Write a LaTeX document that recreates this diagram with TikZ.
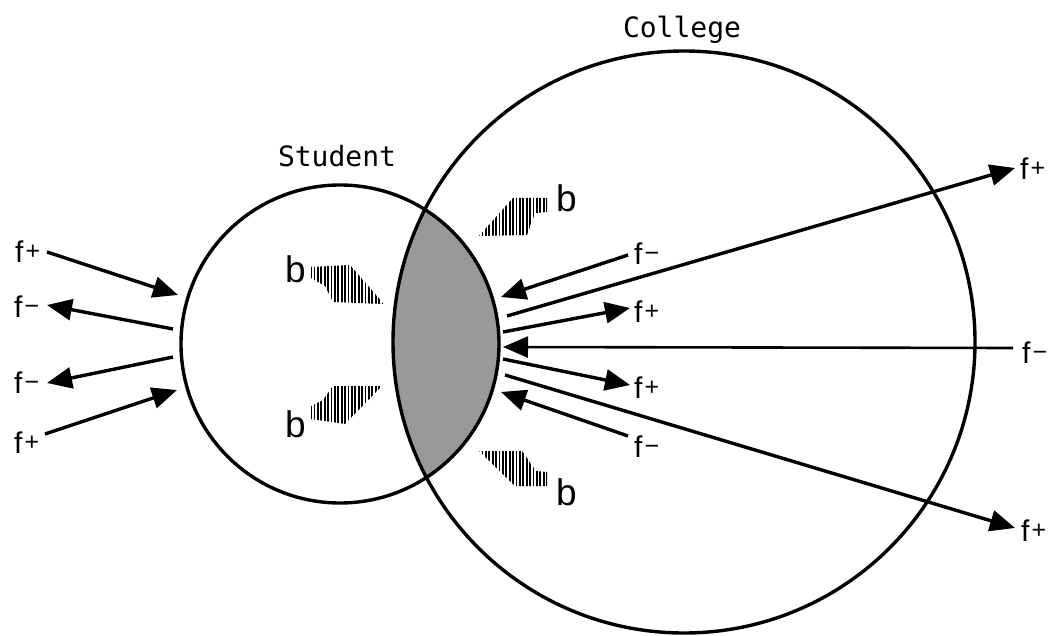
\documentclass[tikz,border=0pt]{standalone}
\usepackage{fontspec}
\setmainfont{Liberation Sans}
\newfontfamily\monofont{DejaVu Sans Mono}
\usetikzlibrary{arrows.meta}
\newcommand\myfp{f\kern2pt\raisebox{3pt}{\fontsize{25}{25}\selectfont +}}
\newcommand\myfm{f\kern2pt\raisebox{3pt}{\fontsize{25}{25}\selectfont −}}
\begin{document}
\begin{tikzpicture}[x=1pt,y=-1pt,
  ring/.style={draw, circle, inner sep=0pt, outer sep=0pt, line width=3.4pt},
  flow/.style={line width=3.4pt, -{Triangle[length=25pt,width=21pt]}},
  flab/.style={anchor=base west, inner sep=0pt, font=\fontsize{30}{36}\selectfont},
  blab/.style={anchor=base west, inner sep=0pt, font=\fontsize{37}{44}\selectfont},
  title/.style={anchor=base, inner sep=0pt, font=\monofont\fontsize{28}{33}\selectfont},
  hatch/.style={line width=1.8pt},
  lens/.style={fill=black!40}]
\useasboundingbox (0,0) rectangle (1054,636);

% overlap (lens)
\begin{scope}
  \clip (340,344) circle[radius=159pt];
  \fill[lens] (684,342) circle[radius=291pt];
\end{scope}
\node[ring, minimum size=318pt] (student) at (340,344) {};
\node[ring, minimum size=582pt] (college) at (684,342) {};

\node[title] (tstudent) at (337,167) {Student};
\node[title] (tcollege) at (682,38) {College};

% hatched b wedges
\begin{scope}
  \clip (311,267) -- (350,265) -- (384,304) -- (333,302) -- (325,286) -- (311,278) -- cycle;
  \foreach \x in {311,314.4,...,386} \draw[hatch] (\x,255) -- (\x,310);
\end{scope}
\begin{scope}
  \clip (311,406) -- (323,400) -- (333,386) -- (382,386) -- (345,424) -- (311,419) -- cycle;
  \foreach \x in {311,314.4,...,386} \draw[hatch] (\x,380) -- (\x,430);
\end{scope}
\begin{scope}
  \clip (479,236) -- (513,198) -- (547,198) -- (547,212) -- (535,213) -- (527,235) -- cycle;
  \foreach \x in {479,482.4,...,550} \draw[hatch] (\x,190) -- (\x,240);
\end{scope}
\begin{scope}
  \clip (479,451) -- (522,451) -- (536,471) -- (547,472) -- (547,486) -- (515,486) -- cycle;
  \foreach \x in {479,482.4,...,550} \draw[hatch] (\x,445) -- (\x,492);
\end{scope}

\node[blab] (b1) at (285,282) {b};
\node[blab] (b2) at (285,437) {b};
\node[blab] (b3) at (556,212) {b};
\node[blab] (b4) at (556,505) {b};

% left labels
\node[flab] (L1) at (15,262) {\myfp};
\node[flab] (L2) at (14,317) {\myfm};
\node[flab] (L3) at (14,393) {\myfm};
\node[flab] (L4) at (14,453) {\myfp};
% right labels
\node[flab] (R1) at (634,265) {\myfm};
\node[flab] (R2) at (1020,180) {\myfp};
\node[flab] (R3) at (634,322) {\myfp};
\node[flab] (R4) at (1022,363) {\myfm};
\node[flab] (R5) at (634,398) {\myfp};
\node[flab] (R6) at (634,457) {\myfm};
\node[flab] (R7) at (1021,541) {\myfp};

% arrow end points
\coordinate (l1t) at (47,252);  \coordinate (l1h) at (178,295);
\coordinate (l2t) at (173,329); \coordinate (l2h) at (47,305);
\coordinate (l3t) at (173,357); \coordinate (l3h) at (47,383);
\coordinate (l4t) at (45,434);  \coordinate (l4h) at (177,390);

\coordinate (r1t) at (628,255); \coordinate (r1h) at (501,297);
\coordinate (r2t) at (507,316); \coordinate (r2h) at (1015,168);
\coordinate (r3t) at (503,332); \coordinate (r3h) at (630,308);
\coordinate (r4t) at (1013,348); \coordinate (r4h) at (503,347);
\coordinate (r5t) at (503,359); \coordinate (r5h) at (630,385);
\coordinate (r6t) at (628,436); \coordinate (r6h) at (501,392);
\coordinate (r7t) at (505,375); \coordinate (r7h) at (1015,528);

\draw[flow] (l1t) -- (l1h);
\draw[flow] (l2t) -- (l2h);
\draw[flow] (l3t) -- (l3h);
\draw[flow] (l4t) -- (l4h);
\draw[flow] (r1t) -- (r1h);
\draw[flow] (r2t) -- (r2h);
\draw[flow] (r3t) -- (r3h);
\draw[flow, line width=2.6pt] (r4t) -- (r4h);
\draw[flow] (r5t) -- (r5h);
\draw[flow] (r6t) -- (r6h);
\draw[flow] (r7t) -- (r7h);
\end{tikzpicture}
\end{document}
